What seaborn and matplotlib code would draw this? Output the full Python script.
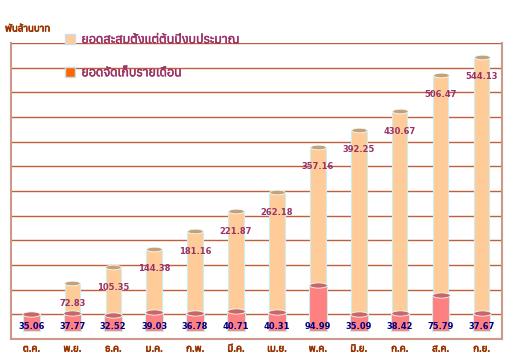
import numpy as np
import pandas as pd
import matplotlib
matplotlib.use("Agg")
from matplotlib import pyplot as plt
from matplotlib import font_manager, patheffects
from matplotlib.ft2font import FT2Font
from matplotlib.patches import Patch
from matplotlib.path import Path
from matplotlib.transforms import Affine2D, ScaledTranslation
import seaborn as sns

# ข้อมูลรายเดือน (พันล้านบาท)
months = ["ต.ค.", "พ.ย.", "ธ.ค.", "ม.ค.", "ก.พ.", "มี.ค.",
          "เม.ย.", "พ.ค.", "มิ.ย.", "ก.ค.", "ส.ค.", "ก.ย."]
cumulative = [35.06, 72.83, 105.35, 144.38, 181.16, 221.87,
              262.18, 357.16, 392.25, 430.67, 506.47, 544.13]
monthly = [35.06, 37.77, 32.52, 39.03, 36.78, 40.71,
           40.31, 94.99, 35.09, 38.42, 75.79, 37.67]
legend_labels = ["ยอดสะสมตั้งแต่ต้นปีงบประมาณ", "ยอดจัดเก็บรายเดือน"]
unit_label = "พันล้านบาท"

sns.set_theme(style="white")

# หา font ที่มีอักษรไทย
thai_fonts = []
for f in font_manager.fontManager.ttflist:
    try:
        if 0x0E01 in FT2Font(f.fname).get_charmap():
            thai_fonts.append(f.name)
    except Exception:
        pass
thai_fonts = sorted(set(thai_fonts))
print("thai fonts:", thai_fonts)
plt.rcParams['font.family'] = thai_fonts[:1] + ['DejaVu Sans']


def heavy(color, w=0.5):
    # ทำให้ตัวอักษรไทยดูหนาขึ้น
    return [patheffects.withStroke(linewidth=w, foreground=color)]


df = pd.DataFrame({"month": months, "cumulative": cumulative, "monthly": monthly})

fig = plt.figure(figsize=(5.2, 3.61), dpi=100)
ax = fig.add_axes([11 / 520, 22 / 361, 491 / 520, 296 / 361])

# แท่งสะสมอยู่ด้านหลัง เลื่อนขึ้นเล็กน้อยให้ดูเป็นสามมิติ
depth = ScaledTranslation(0, 13 / 100, fig.dpi_scale_trans)

sns.barplot(data=df, x="month", y="cumulative", color="#FFCC99", saturation=1,
            width=0.38, edgecolor="#CCEEEE", linewidth=0.8, ax=ax, zorder=3)
for p in ax.patches:
    p.set_transform(ax.transData + depth)
ax.patches[0].set_visible(False)  # เดือนแรกยอดสะสม = ยอดรายเดือน
sns.barplot(data=df, x="month", y="monthly", color="#FF8080", saturation=1,
            width=0.43, edgecolor="#CCEEEE", linewidth=0.8, ax=ax, zorder=4)

# ฝาบนของทรงกระบอก
cap = Path.unit_circle().transformed(Affine2D().scale(1.0, 0.3))
x = np.arange(len(months))
ax.scatter(x[1:], cumulative[1:], marker=cap, s=125, color="#C8A078",
           edgecolor="#E8FFFF", linewidth=0.6, zorder=5,
           transform=ax.transData + depth)
ax.scatter(x, monthly, marker=cap, s=160, color="#CC6666", edgecolor="#E8FFFF",
           linewidth=0.6, zorder=6)

ax.set_ylim(-16.7, 600)
ax.set_xlim(-0.5, len(months) - 0.5)
for y in np.linspace(-16.7, 600, 13)[1:]:
    ax.axhline(y, color="#C0603A", lw=1.0, zorder=1)

num_font = dict(family="DejaVu Sans", fontsize=6, fontweight="bold")
for i, (c, m) in enumerate(zip(cumulative, monthly)):
    if i > 0:
        ax.annotate(f"{c:.2f}", (i, c), xytext=(0, 13 - 20), textcoords="offset pixels",
                    ha="center", va="center", color="#993366", zorder=7, **num_font)
    ax.annotate(f"{m:.2f}", (i, 0), xytext=(0, 4), textcoords="offset pixels",
                ha="center", va="center", color="#000080", zorder=8, **num_font)

ax.set_xlabel("")
ax.set_ylabel("")
ax.set_yticks([])
ax.tick_params(axis="x", length=0, pad=4)
for lbl in ax.get_xticklabels():
    lbl.set_fontsize(7)
    lbl.set_fontweight("bold")
    lbl.set_color("#993300")
    lbl.set_path_effects(heavy("#993300"))

for side in ["left", "right", "bottom"]:
    ax.spines[side].set_color("#CC9988")
    ax.spines[side].set_linewidth(1.5)
ax.spines["top"].set_visible(False)

fig.text(5 / 520, 1 - 29 / 361, unit_label, fontsize=7, fontweight="bold",
         color="#993300", va="center", path_effects=heavy("#993300"))

handles = [Patch(facecolor="#FFCC99", edgecolor="#CCDDEE"),
           Patch(facecolor="#FF6600", edgecolor="#CCDDEE")]
leg = fig.legend(handles, legend_labels, loc="upper left",
                 bbox_to_anchor=(54 / 520, 1 - 22 / 361), frameon=False, fontsize=9,
                 labelcolor="#993366", handlelength=0.8, handleheight=0.9,
                 labelspacing=1.6, handletextpad=0.5)
for t in leg.get_texts():
    t.set_path_effects(heavy("#993366", 0.4))

fig.savefig("out.png", dpi=100)
